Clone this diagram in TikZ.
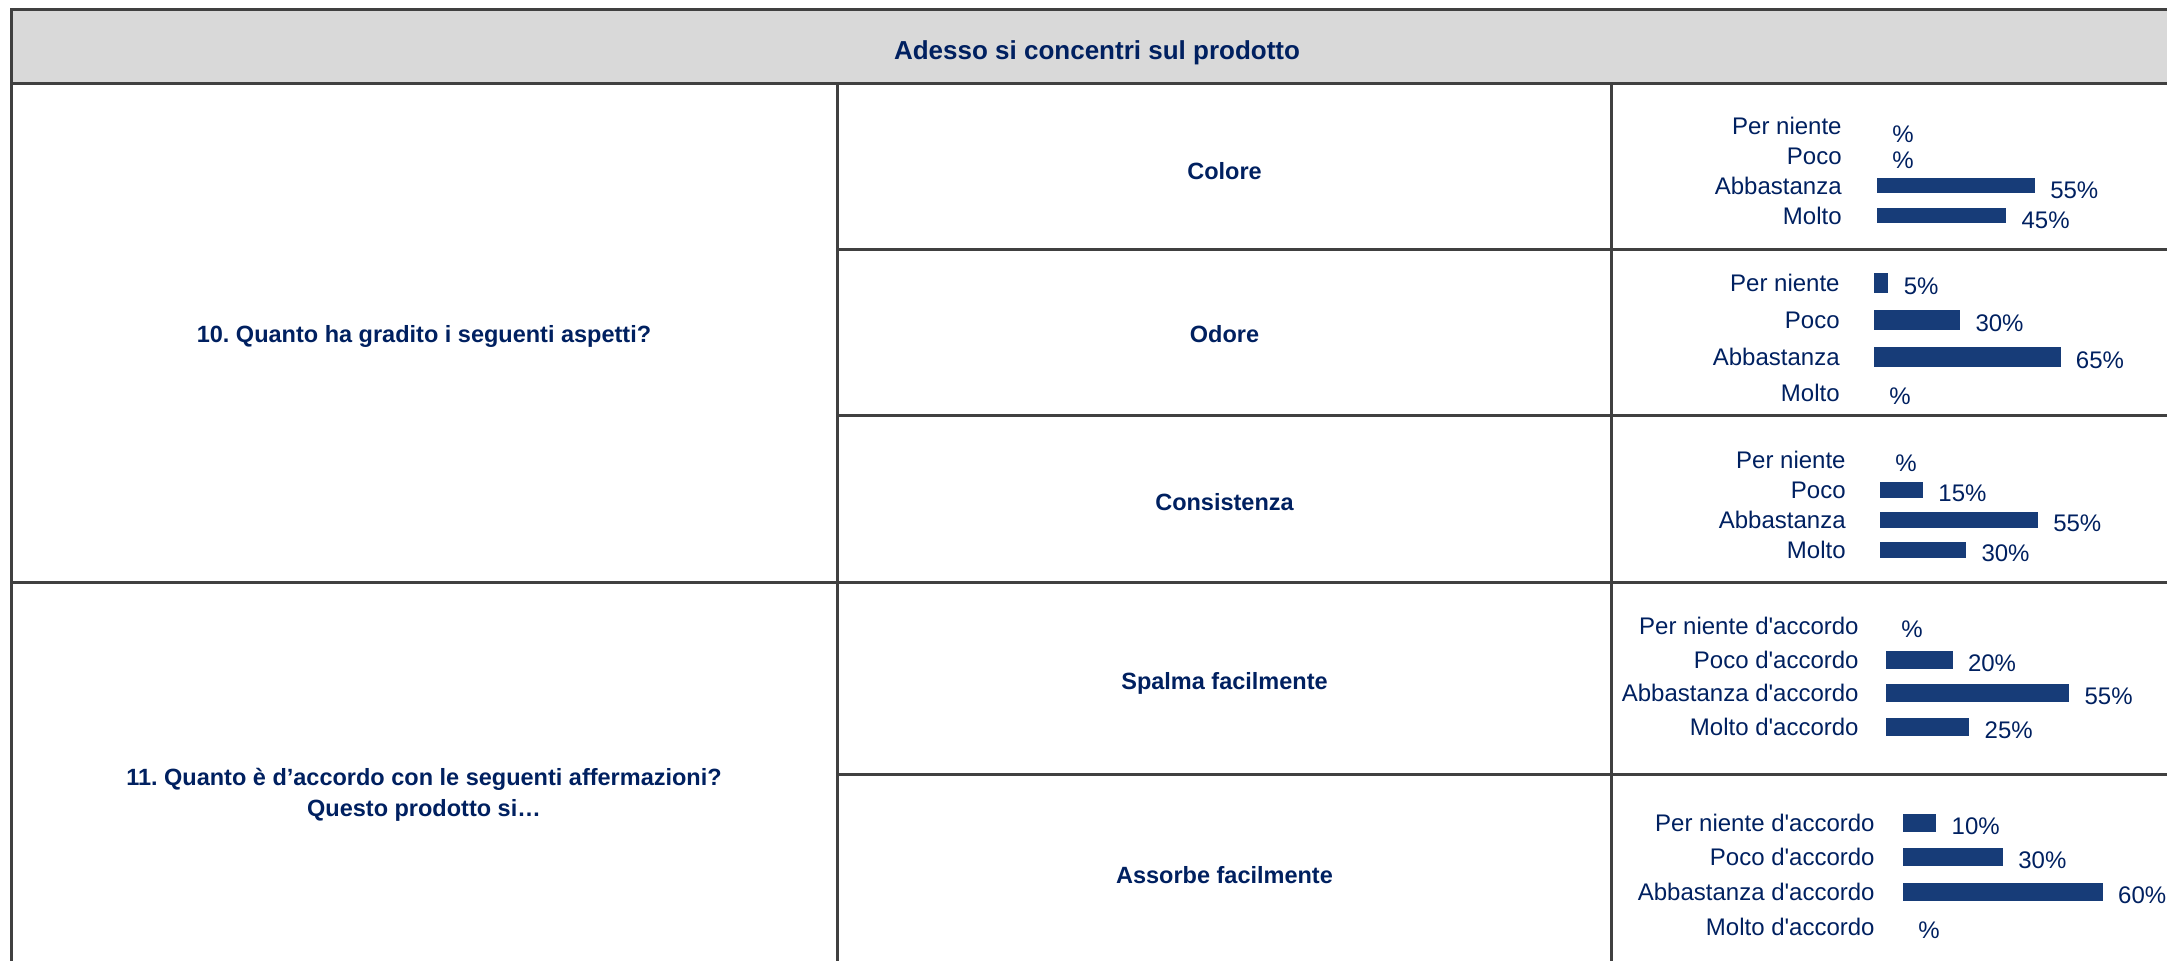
\documentclass[tikz,border=0pt]{standalone}
\usepackage{fontspec}
\setmainfont{Liberation Sans}
\usepackage{tikz}
\definecolor{navy}{RGB}{0,32,96}
\definecolor{barblue}{RGB}{23,60,120}
\definecolor{headgray}{RGB}{217,217,217}
\definecolor{rulegray}{RGB}{64,64,64}
\frenchspacing

\begin{document}
\begin{tikzpicture}[x=0.5pt, y=-0.5pt,
  rule/.style={draw=rulegray, line width=1.5pt},
  title/.style={font=\fontsize{13}{15}\selectfont\bfseries, text=navy, inner sep=0pt, text depth=0pt},
  aspect/.style={font=\fontsize{11.75}{14}\selectfont\bfseries, text=navy, inner sep=0pt, text depth=0pt},
  question/.style={font=\fontsize{11.75}{15.5}\selectfont\bfseries, text=navy, inner sep=0pt, align=center, anchor=base},
  lab/.style={font=\fontsize{12}{14}\selectfont, text=navy, inner sep=0pt, anchor=east},
  val/.style={lab, anchor=west},
  bar/.style={fill=barblue}
]
\useasboundingbox (0,0) rectangle (2167,961);
\clip (0,0) rectangle (2167,961);

% table
\fill[headgray] (11,10) rectangle (2180,83.5);
\draw[rule] (2180,10) -- (11,10) -- (11,970);
\draw[rule] (11,83.5) -- (2180,83.5);
\draw[rule] (11,582.5) -- (2180,582.5);
\draw[rule] (837.5,83.5) -- (837.5,970);
\draw[rule] (1611.5,83.5) -- (1611.5,970);
\foreach \yy in {250,416,774}
  \draw[rule] (837.5,\yy) -- (2180,\yy);

% headings
\node[title] (head) at (1097,50) {Adesso si concentri sul prodotto};
\node[aspect] (q10) at (424,334) {10. Quanto ha gradito i seguenti aspetti?};
\node[question] (q11) at (424,816) {11. Quanto è d’accordo con le seguenti affermazioni?\\Questo prodotto si…};

\node[aspect] (colore) at (1224.5,171) {Colore};
\node[aspect] (odore) at (1224.5,334) {Odore};
\node[aspect] (consistenza) at (1224.5,502) {Consistenza};
\node[aspect] (spalma) at (1224.5,681) {Spalma facilmente};
\node[aspect] (assorbe) at (1224.5,875) {Assorbe facilmente};

% charts
\foreach \t/\y/\v/\dy [count=\i] in {Per niente/126/0/8, Poco/156/0/4, Abbastanza/186/55/4, Molto/216/45/4}{
  \node[lab] (colore-l\i) at (1842,\y) {\t};
  \ifnum\v>0 \fill[bar] (1877,\y-7.5) rectangle ++(\v*2.87,15);\fi
  \node[val] (colore-v\i) at (1877+\v*2.87+15,\y+\dy) {\ifnum\v>0 \v\fi\%};
}
\foreach \t/\y/\v [count=\i] in {Per niente/283/5, Poco/320/30, Abbastanza/357/65, Molto/393/0}{
  \node[lab] (odore-l\i) at (1840,\y) {\t};
  \ifnum\v>0 \fill[bar] (1874,\y-10) rectangle ++(\v*2.87,20);\fi
  \node[val] (odore-v\i) at (1874+\v*2.87+15,\y+3) {\ifnum\v>0 \v\fi\%};
}
\foreach \t/\y/\v [count=\i] in {Per niente/460/0, Poco/490/15, Abbastanza/520/55, Molto/550/30}{
  \node[lab] (consistenza-l\i) at (1846,\y) {\t};
  \ifnum\v>0 \fill[bar] (1880,\y-8) rectangle ++(\v*2.87,16);\fi
  \node[val] (consistenza-v\i) at (1880+\v*2.87+15,\y+3) {\ifnum\v>0 \v\fi\%};
}
\foreach \t/\y/\v [count=\i] in {Per niente/626/0, Poco/660/20, Abbastanza/693/55, Molto/727/25}{
  \node[lab] (spalma-l\i) at (1859,\y) {\t{} d\textquotesingle accordo};
  \ifnum\v>0 \fill[bar] (1886,\y-9) rectangle ++(\v*3.33,18);\fi
  \node[val] (spalma-v\i) at (1886+\v*3.33+15,\y+3) {\ifnum\v>0 \v\fi\%};
}
\foreach \t/\y/\v [count=\i] in {Per niente/823/10, Poco/857/30, Abbastanza/892/60, Molto/927/0}{
  \node[lab] (assorbe-l\i) at (1875,\y) {\t{} d\textquotesingle accordo};
  \ifnum\v>0 \fill[bar] (1903,\y-9) rectangle ++(\v*3.33,18);\fi
  \node[val] (assorbe-v\i) at (1903+\v*3.33+15,\y+3) {\ifnum\v>0 \v\fi\%};
}

\end{tikzpicture}
\end{document}
